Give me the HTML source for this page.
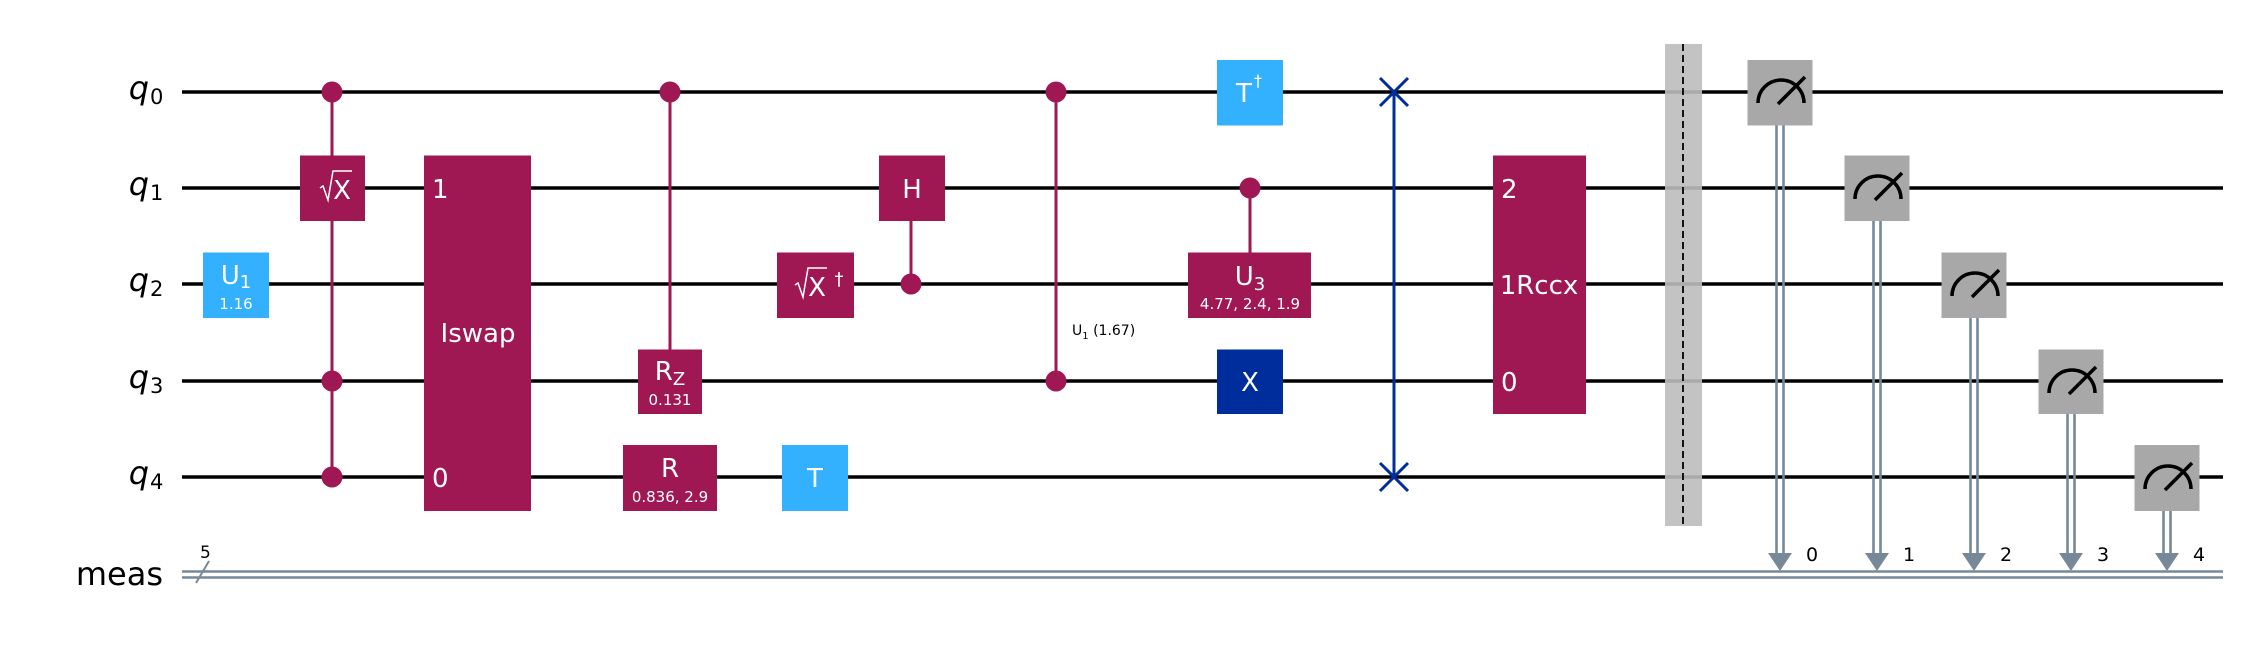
<!DOCTYPE html>
<html><head><meta charset="utf-8"><style>
html,body{margin:0;padding:0;background:#fff;}
svg{display:block;}
text{font-family:"DejaVu Sans","Liberation Sans",sans-serif;}
</style></head><body>
<svg width="2245" height="648" viewBox="0 0 2245 648" xmlns="http://www.w3.org/2000/svg">
<rect width="2245" height="648" fill="#fff"/>
<g stroke="#000" stroke-width="3.6">
<line x1="182" y1="92" x2="2223" y2="92"/>
<line x1="182" y1="188" x2="2223" y2="188"/>
<line x1="182" y1="284" x2="2223" y2="284"/>
<line x1="182" y1="381" x2="2223" y2="381"/>
<line x1="182" y1="477" x2="2223" y2="477"/>
</g>
<g stroke="#778899" stroke-width="2.6">
<line x1="182" y1="571.5" x2="2223" y2="571.5"/>
<line x1="182" y1="577.5" x2="2223" y2="577.5"/>
<line x1="196" y1="583" x2="209" y2="561" stroke-width="2"/>
</g>
<text x="200" y="558" font-size="17">5</text>
<g font-size="32" font-style="italic" text-anchor="end">
<text x="149" y="99">q</text><text x="149" y="195">q</text><text x="149" y="291">q</text><text x="149" y="388">q</text><text x="149" y="484">q</text>
</g>
<g font-size="21">
<text x="150" y="104">0</text><text x="150" y="200">1</text><text x="150" y="296">2</text><text x="150" y="393">3</text><text x="150" y="489">4</text>
</g>
<text x="163" y="585" font-size="32" text-anchor="end">meas</text>

<rect x="1665" y="44" width="37" height="482" fill="#bdbdbd" opacity="0.9"/>
<line x1="1683" y1="44" x2="1683" y2="526" stroke="#000" stroke-width="1.8" stroke-dasharray="7,4"/>

<g stroke="#9f1853" stroke-width="3">
<line x1="332" y1="92" x2="332" y2="477"/>
<line x1="670" y1="92" x2="670" y2="350"/>
<line x1="911" y1="188" x2="911" y2="284"/>
<line x1="1056" y1="92" x2="1056" y2="381"/>
<line x1="1250" y1="188" x2="1250" y2="253"/>
</g>
<g fill="#9f1853">
<circle cx="332" cy="92" r="10.5"/><circle cx="332" cy="381" r="10.5"/><circle cx="332" cy="477" r="10.5"/>
<circle cx="670" cy="92" r="10.5"/>
<circle cx="911" cy="284" r="10.5"/>
<circle cx="1056" cy="92" r="10.5"/><circle cx="1056" cy="381" r="10.5"/>
<circle cx="1250" cy="188" r="10.5"/>
</g>
<text x="1072" y="335" font-size="14">U<tspan font-size="10" dy="4">1</tspan><tspan dy="-4"> (1.67)</tspan></text>

<g fill="#9f1853">
<rect x="300" y="155.5" width="65" height="65.5"/>
<rect x="424" y="155.5" width="107" height="355.5"/>
<rect x="638" y="349.5" width="64" height="64.5"/>
<rect x="623" y="445" width="94" height="66"/>
<rect x="777" y="252.5" width="77" height="65.5"/>
<rect x="879" y="155.5" width="66" height="65.5"/>
<rect x="1188" y="252.5" width="123" height="65.5"/>
<rect x="1493" y="155.5" width="93" height="258.5"/>
</g>
<g fill="#33b1ff">
<rect x="203" y="252.5" width="66" height="65.5"/>
<rect x="782" y="445" width="66" height="66"/>
<rect x="1217" y="60" width="66" height="65.5"/>
</g>
<rect x="1217" y="349.5" width="66" height="64.5" fill="#002d9c"/>

<g fill="#fff" font-size="26" text-anchor="middle">
<text x="236" y="284">U<tspan font-size="18" dy="4">1</tspan></text>
<text x="236" y="309" font-size="15">1.16</text>
<text x="342" y="199">X</text>
<text x="478" y="342">Iswap</text>
<text x="432" y="198" text-anchor="start">1</text>
<text x="432" y="487" text-anchor="start">0</text>
<text x="670" y="380">R<tspan font-size="18" dy="5">Z</tspan></text>
<text x="670" y="405" font-size="15">0.131</text>
<text x="670" y="477">R</text>
<text x="670" y="502" font-size="15">0.836, 2.9</text>
<text x="817" y="296">X</text>
<text x="839" y="285" font-size="18">†</text>
<text x="815" y="487">T</text>
<text x="912" y="198">H</text>
<text x="1244" y="102">T</text>
<text x="1258" y="86" font-size="16">†</text>
<text x="1250" y="285">U<tspan font-size="18" dy="5">3</tspan></text>
<text x="1250" y="309" font-size="15">4.77, 2.4, 1.9</text>
<text x="1250" y="391">X</text>
<text x="1501" y="198" text-anchor="start">2</text>
<text x="1539" y="294">1Rccx</text>
<text x="1501" y="391" text-anchor="start">0</text>
</g>
<g stroke="#fff" stroke-width="1.5" fill="none">
<path d="M320,188 L323,186 L328,200 L333,171 L352,171"/>
<path d="M795,285 L798,283 L803,297 L808,268 L827,268"/>
</g>

<g stroke="#002d9c" stroke-width="3">
<line x1="1394" y1="92" x2="1394" y2="477"/>
<line x1="1380" y1="78" x2="1408" y2="106"/><line x1="1408" y1="78" x2="1380" y2="106"/>
<line x1="1380" y1="463" x2="1408" y2="491"/><line x1="1408" y1="463" x2="1380" y2="491"/>
</g>

<g transform="translate(1780,0)">
<line x1="-3.5" y1="125" x2="-3.5" y2="555" stroke="#778899" stroke-width="2.6"/><line x1="3.5" y1="125" x2="3.5" y2="555" stroke="#778899" stroke-width="2.6"/>
<polygon points="-12,553 12,553 0,571" fill="#778899"/>
<rect x="-32.5" y="60" width="65" height="65.5" fill="#a8a8a8"/>
<path d="M-22,103 A23,23 0 0 1 24,103" fill="none" stroke="#000" stroke-width="3.5"/>
<line x1="-2" y1="104" x2="25" y2="77" stroke="#000" stroke-width="3.5"/>
<text x="26" y="561" font-size="19">0</text>
</g>
<g transform="translate(1877,0)">
<line x1="-3.5" y1="221" x2="-3.5" y2="555" stroke="#778899" stroke-width="2.6"/><line x1="3.5" y1="221" x2="3.5" y2="555" stroke="#778899" stroke-width="2.6"/>
<polygon points="-12,553 12,553 0,571" fill="#778899"/>
<rect x="-32.5" y="155.5" width="65" height="65.5" fill="#a8a8a8"/>
<path d="M-22,199 A23,23 0 0 1 24,199" fill="none" stroke="#000" stroke-width="3.5"/>
<line x1="-2" y1="200" x2="25" y2="173" stroke="#000" stroke-width="3.5"/>
<text x="26" y="561" font-size="19">1</text>
</g>
<g transform="translate(1974,0)">
<line x1="-3.5" y1="318" x2="-3.5" y2="555" stroke="#778899" stroke-width="2.6"/><line x1="3.5" y1="318" x2="3.5" y2="555" stroke="#778899" stroke-width="2.6"/>
<polygon points="-12,553 12,553 0,571" fill="#778899"/>
<rect x="-32.5" y="252.5" width="65" height="65.5" fill="#a8a8a8"/>
<path d="M-22,296 A23,23 0 0 1 24,296" fill="none" stroke="#000" stroke-width="3.5"/>
<line x1="-2" y1="297" x2="25" y2="270" stroke="#000" stroke-width="3.5"/>
<text x="26" y="561" font-size="19">2</text>
</g>
<g transform="translate(2071,0)">
<line x1="-3.5" y1="414" x2="-3.5" y2="555" stroke="#778899" stroke-width="2.6"/><line x1="3.5" y1="414" x2="3.5" y2="555" stroke="#778899" stroke-width="2.6"/>
<polygon points="-12,553 12,553 0,571" fill="#778899"/>
<rect x="-32.5" y="349.5" width="65" height="64.5" fill="#a8a8a8"/>
<path d="M-22,393 A23,23 0 0 1 24,393" fill="none" stroke="#000" stroke-width="3.5"/>
<line x1="-2" y1="394" x2="25" y2="367" stroke="#000" stroke-width="3.5"/>
<text x="26" y="561" font-size="19">3</text>
</g>
<g transform="translate(2167,0)">
<line x1="-3.5" y1="511" x2="-3.5" y2="555" stroke="#778899" stroke-width="2.6"/><line x1="3.5" y1="511" x2="3.5" y2="555" stroke="#778899" stroke-width="2.6"/>
<polygon points="-12,553 12,553 0,571" fill="#778899"/>
<rect x="-32.5" y="445" width="65" height="66" fill="#a8a8a8"/>
<path d="M-22,489 A23,23 0 0 1 24,489" fill="none" stroke="#000" stroke-width="3.5"/>
<line x1="-2" y1="490" x2="25" y2="463" stroke="#000" stroke-width="3.5"/>
<text x="26" y="561" font-size="19">4</text>
</g>
</svg>
</body></html>
